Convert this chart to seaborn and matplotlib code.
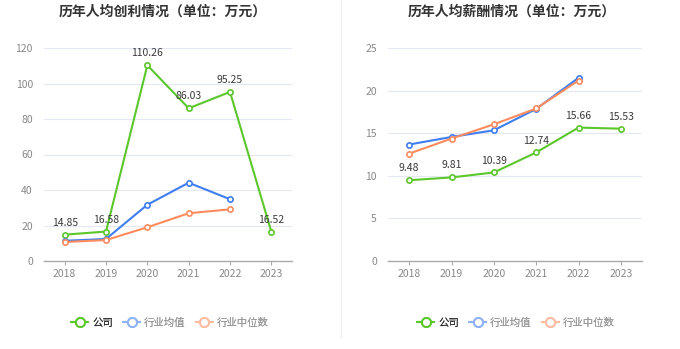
import matplotlib
matplotlib.use("Agg")
import matplotlib.pyplot as plt
from matplotlib.lines import Line2D
import pandas as pd
import seaborn as sns

years = ["2018", "2019", "2020", "2021", "2022", "2023"]

profit_company = [14.85, 16.58, 110.26, 86.03, 95.25, 16.52]
profit_industry_mean = [11.4, 12.4, 31.7, 44.1, 34.8, None]
profit_industry_median = [10.7, 11.8, 19.0, 26.9, 29.1, None]

salary_company = [9.48, 9.81, 10.39, 12.74, 15.66, 15.53]
salary_industry_mean = [13.67, 14.56, 15.34, 17.85, 21.5, None]
salary_industry_median = [12.6, 14.37, 16.04, 17.9, 21.18, None]

series_names = ["公司", "行业均值", "行业中位数"]
colors = ["#5BC72B", "#3F7EF0", "#FF8C5E"]
legend_colors = ["#5BC72B", "#8FB2F6", "#FFBCA2"]

sns.set_theme(style="white")
plt.rcParams["font.family"] = ["Noto Sans CJK SC", "DejaVu Sans"]

fig = plt.figure(figsize=(6.8, 3.49), dpi=100)


def draw_panel(ax, title, title_x, values, ymax, ystep):
    x = list(range(len(years)))
    for name, vals, col in zip(series_names, values, colors):
        df = pd.DataFrame({"x": x, "y": vals}).dropna()
        sns.lineplot(data=df, x="x", y="y", ax=ax, color=col, linewidth=1.5,
                     marker="o", markersize=3.8, markerfacecolor="white",
                     markeredgecolor=col, markeredgewidth=1.2, zorder=3)
    for xi, v in zip(x, values[0]):
        ax.annotate(f"{v:.2f}", (xi, v), xytext=(0, 5), textcoords="offset points",
                    ha="center", va="bottom", fontsize=7.5, color="#3A3A3A", zorder=4)
    ax.set_xlim(-0.5, len(years) - 0.5)
    ax.set_ylim(0, ymax)
    ax.set_yticks(range(0, ymax + 1, ystep))
    ax.set_xticks(x)
    ax.set_xticklabels(years)
    ax.set_xlabel("")
    ax.set_ylabel("")
    ax.grid(axis="y", color="#E3E8F2", linewidth=0.8)
    ax.set_axisbelow(True)
    for s in ["top", "right", "left"]:
        ax.spines[s].set_visible(False)
    ax.spines["bottom"].set_color("#AAAAAA")
    ax.spines["bottom"].set_linewidth(1.0)
    ax.tick_params(axis="x", length=3, width=0.8, color="#AAAAAA",
                   labelsize=7.5, labelcolor="#888888", pad=3, direction="out", bottom=True)
    ax.tick_params(axis="y", length=0, labelsize=7.5, labelcolor="#888888", pad=8)
    fig.text(title_x / 680, 1 - 12 / 349, title, ha="center", va="center",
             fontsize=10, fontweight="bold", color="#333333")


ax1 = fig.add_axes([44 / 680, 88 / 349, 248 / 680, 213 / 349])
draw_panel(ax1, "历年人均创利情况（单位：万元）", 163,
           [profit_company, profit_industry_mean, profit_industry_median], 120, 20)

ax2 = fig.add_axes([388 / 680, 88 / 349, 254 / 680, 213 / 349])
draw_panel(ax2, "历年人均薪酬情况（单位：万元）", 512,
           [salary_company, salary_industry_mean, salary_industry_median], 25, 5)

# divider between panels
fig.add_artist(Line2D([341 / 680, 341 / 680], [11 / 349, 1.0], color="#EEEEEE",
                      linewidth=0.8, transform=fig.transFigure))

# legends below each panel
handles = [Line2D([], [], color=c, linewidth=1.5, marker="o", markersize=6.5,
                  markerfacecolor="white", markeredgecolor=c, markeredgewidth=1.4)
           for c in legend_colors]
for cx in (170, 516):
    leg = fig.legend(handles, series_names, loc="center", ncol=3,
                     bbox_to_anchor=(cx / 680, 26 / 349), frameon=False,
                     fontsize=7.5, handlelength=1.6, handletextpad=0.4,
                     columnspacing=1.0)
    for t, c in zip(leg.get_texts(), ["#333333", "#999999", "#999999"]):
        t.set_color(c)
    fig.add_artist(leg)

fig.savefig("out.png", dpi=100)
